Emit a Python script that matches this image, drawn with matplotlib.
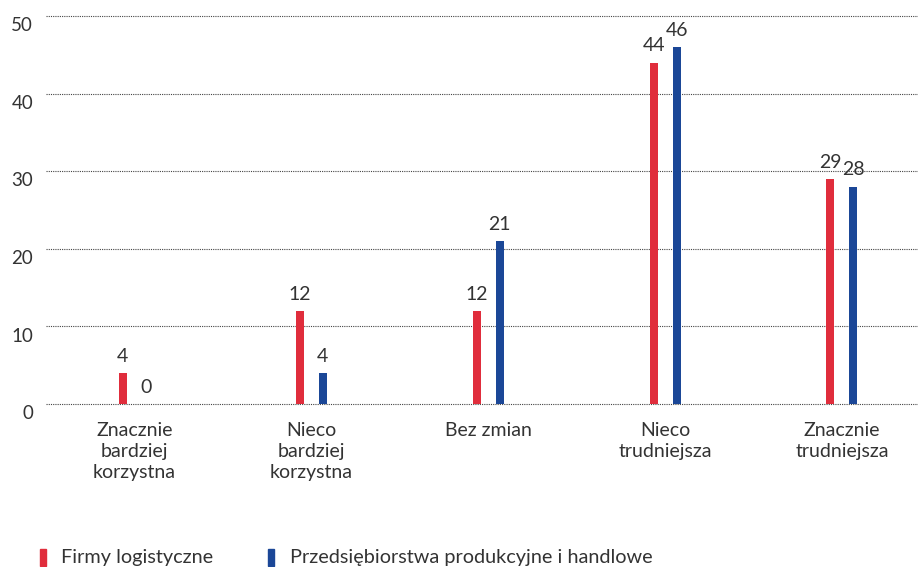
import matplotlib.pyplot as plt
import matplotlib.transforms as mtransforms
from matplotlib.patches import Rectangle
import numpy as np

plt.rcParams['font.family'] = ['Lato', 'DejaVu Sans']

kategorie = ["Znacznie\nbardziej\nkorzystna", "Nieco\nbardziej\nkorzystna",
             "Bez zmian", "Nieco\ntrudniejsza", "Znacznie\ntrudniejsza"]
firmy_logistyczne = [4, 12, 12, 44, 29]
przedsiebiorstwa = [0, 4, 21, 46, 28]
serie = ["Firmy logistyczne", "Przedsiębiorstwa produkcyjne i handlowe"]
y_ticks = [0, 10, 20, 30, 40, 50]

czerwony = "#e02d3c"
niebieski = "#1b4797"
tekst = "#333333"

fig = plt.figure(figsize=(9.18, 5.67), dpi=100)
ax = fig.add_axes([0.050, 0.2875, 0.950, 0.6843])

x = np.arange(len(kategorie))
szer = 0.045
off = 0.065
ax.bar(x - off, firmy_logistyczne, szer, color=czerwony, zorder=3)
ax.bar(x + off, przedsiebiorstwa, szer, color=niebieski, zorder=3)

# etykiety wartosci nad slupkami
for xi, v in zip(x, firmy_logistyczne):
    ax.annotate(str(v), (xi - off, v), xytext=(0, 6), textcoords="offset points",
                ha="center", va="bottom", fontsize=14, color=tekst)
for xi, v in zip(x, przedsiebiorstwa):
    ax.annotate(str(v), (xi + off, v), xytext=(0, 6), textcoords="offset points",
                ha="center", va="bottom", fontsize=14, color=tekst)

ax.set_xlim(-0.5, 4.43)
ax.set_ylim(0, 50)
for s in ax.spines.values():
    s.set_visible(False)

for t in y_ticks:
    ax.axhline(t, color="#444444", lw=0.8, ls=(0, (1, 1)), zorder=1, clip_on=False)

ax.set_yticks([])
ax.set_xticks([])

# opisy osi Y lekko pod liniami siatki
trans = mtransforms.blended_transform_factory(fig.transFigure, ax.transData)
przes = mtransforms.ScaledTranslation(0, -7 / 72, fig.dpi_scale_trans)
for t in y_ticks:
    fig.text(0.036, t, str(t), transform=trans + przes, ha="right", va="center",
             fontsize=13.5, color=tekst)

for xi, k in zip(x, kategorie):
    ax.annotate(k, (xi, 0), xytext=(0, -13), textcoords="offset points",
                ha="center", va="top", fontsize=14, color=tekst, linespacing=1.28,
                annotation_clip=False)

# legenda na dole
W, H = 918, 567
for kolor, nazwa, xm, xt in [(czerwony, serie[0], 40, 61), (niebieski, serie[1], 268, 290)]:
    fig.add_artist(Rectangle((xm / W, 1 - 566 / H), 6 / W, 17 / H,
                             transform=fig.transFigure, color=kolor))
    fig.text(xt / W, 1 - 557 / H, nazwa, ha="left", va="center",
             fontsize=14.3, color=tekst)

fig.savefig("out.png", dpi=100)
